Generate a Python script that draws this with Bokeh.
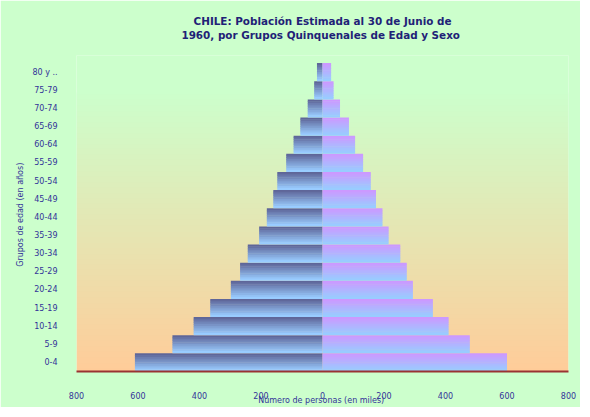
import numpy as np
from bokeh.plotting import figure
from bokeh.models import FixedTicker, Range1d, Title
from bokeh.embed import file_html
from bokeh.resources import INLINE

# ---- data ----
age_groups = ["0-4", "5-9", "10-14", "15-19", "20-24", "25-29", "30-34", "35-39",
              "40-44", "45-49", "50-54", "55-59", "60-64", "65-69", "70-74", "75-79", "80 y .."]
male = [610, 488, 419, 365, 298, 268, 243, 206, 181, 160, 147, 118, 94, 72, 48, 27, 18]
female = [600, 479, 410, 359, 294, 274, 253, 215, 195, 174, 157, 132, 106, 86, 57, 36, 28]
x_ticks = [-800, -600, -400, -200, 0, 200, 400, 600, 800]
x_tick_labels = ["800", "600", "400", "200", "0", "200", "400", "600", "800"]

title_1 = "CHILE: Población Estimada al 30 de Junio de"
title_2 = "1960, por Grupos Quinquenales de Edad  y Sexo"
x_title = "Número de personas  (en miles)"
y_title = "Grupos de edad  (en años)"

# ---- styling ----
BG = "#ccffcc"
TXT = "#333399"
TITLE_C = "#1f2277"
FONT = "DejaVu Sans"


def hex2rgb(h):
    h = h.lstrip("#")
    return np.array([int(h[i:i + 2], 16) for i in (0, 2, 4)], dtype=float)


def rgb2hex(c):
    c = np.clip(np.round(c), 0, 255).astype(int)
    return "#%02x%02x%02x" % tuple(c)


p = figure(width=580, height=407, output_backend="svg", toolbar_location=None,
           x_range=Range1d(-800, 800), y_range=Range1d(-0.5, 16.92),
           min_border_left=76, min_border_right=12, min_border_top=55, min_border_bottom=35)
p.background_fill_color = BG
p.border_fill_color = BG
p.outline_line_color = None
p.xgrid.visible = False
p.ygrid.visible = False

# plot-area gradient (green top -> orange bottom)
g_top, g_bot = hex2rgb("#ccffcc"), hex2rgb("#ffcc99")
M = 200
img = np.zeros((M, 1), dtype=np.uint32)
view = img.view(dtype=np.uint8).reshape((M, 1, 4))
for r in range(M):
    t = r / (M - 1)  # 0 bottom -> 1 top
    c = g_bot * (1 - t) + g_top * t
    view[r, 0, 0:3] = np.round(c).astype(np.uint8)
    view[r, 0, 3] = 255
grad_top = 14.88
p.image_rgba(image=[img], x=-800, y=-0.5, dw=1600, dh=grad_top + 0.5)

# bars with vertical gradient made of thin slices
N = 10
H = 0.97
m_top, m_bot = hex2rgb("#5f6699"), hex2rgb("#99ccff")
f_top, f_bot = hex2rgb("#cc99ff"), hex2rgb("#99ccff")
ys, ml, fr, mc, fc = [], [], [], [], []
for i in range(len(age_groups)):
    for k in range(N):
        t = k / (N - 1)
        ys.append(i + H / 2 - (k + 0.5) * H / N)
        ml.append(-male[i])
        fr.append(female[i])
        mc.append(rgb2hex(m_top * (1 - t) + m_bot * t))
        fc.append(rgb2hex(f_top * (1 - t) + f_bot * t))
p.hbar(y=ys, left=ml, right=0, height=H / N + 0.03, fill_color=mc, line_color=None)
p.hbar(y=ys, left=0, right=fr, height=H / N + 0.03, fill_color=fc, line_color=None)

# axes
p.xaxis.ticker = FixedTicker(ticks=x_ticks)
p.xaxis.major_label_overrides = {t: l for t, l in zip(x_ticks, x_tick_labels)}
p.xaxis.axis_line_color = "#993333"
p.xaxis.axis_line_width = 2
p.xaxis.major_tick_line_color = None
p.xaxis.minor_tick_line_color = None
p.xaxis.major_tick_out = 0
p.xaxis.minor_tick_out = 0
p.xaxis.major_label_standoff = 20
p.xaxis.major_label_text_font = FONT
p.xaxis.major_label_text_font_size = "8px"
p.xaxis.major_label_text_color = TXT
p.xaxis.axis_label = x_title
p.xaxis.axis_label_text_font = FONT
p.xaxis.axis_label_text_font_size = "8px"
p.xaxis.axis_label_text_font_style = "normal"
p.xaxis.axis_label_text_color = TXT
p.xaxis.axis_label_standoff = -6

p.yaxis.ticker = FixedTicker(ticks=list(range(len(age_groups))))
p.yaxis.major_label_overrides = {i: g for i, g in enumerate(age_groups)}
p.yaxis.axis_line_color = None
p.yaxis.major_tick_line_color = None
p.yaxis.minor_tick_line_color = None
p.yaxis.major_tick_out = 0
p.yaxis.minor_tick_out = 0
p.yaxis.major_label_standoff = 19
p.yaxis.major_label_text_font = FONT
p.yaxis.major_label_text_font_size = "8px"
p.yaxis.major_label_text_color = TXT
p.yaxis.axis_label = y_title
p.yaxis.axis_label_text_font = FONT
p.yaxis.axis_label_text_font_size = "8px"
p.yaxis.axis_label_text_font_style = "normal"
p.yaxis.axis_label_text_color = TXT
p.yaxis.axis_label_standoff = 4

# titles: spacer next to the frame, then line 2, then line 1
p.add_layout(Title(text=" ", text_font_size="1px", standoff=7), "above")
p.add_layout(Title(text=title_2, align="center", vertical_align="top", text_font=FONT,
                   text_font_size="10.4px", text_font_style="bold", text_color=TITLE_C,
                   standoff=5), "above")
p.add_layout(Title(text=title_1, align="center", text_font=FONT, text_font_size="10.4px",
                   text_font_style="bold", text_color=TITLE_C, standoff=0), "above")

open("out.html", "w").write(file_html(p, INLINE))
